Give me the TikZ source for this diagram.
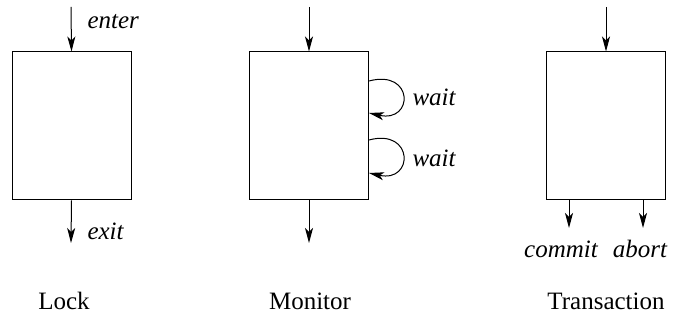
\documentclass[tikz,border=0pt]{standalone}
\usepackage{fontspec}
\setmainfont{Liberation Serif}
\usepackage{tikz}
\usetikzlibrary{arrows.meta,positioning,calc}

\begin{document}
\begin{tikzpicture}[x=0.5pt, y=-0.5pt, line width=0.5pt, >={Stealth[length=7.5pt,width=4pt,inset=2pt]}]
  \tikzset{unit/.style={draw, minimum width=59.5pt, minimum height=74pt, inner sep=0},
           lbl/.style={font=\fontsize{12.5}{14}\selectfont\itshape, inner sep=0},
           title/.style={font=\fontsize{12.5}{14}\selectfont, inner sep=0}}
  \useasboundingbox (0,0) rectangle (683,324);
  % lock
  \node[unit] (lock) at (71.5,126) {};
  \coordinate (lockin) at (71,7);
  \coordinate (lockout) at (71,243);
  \draw[->] (lockin) -- (lock.north);
  \draw[->] (lock.south) -- (lockout);
  \node[lbl, anchor=west] (enter) at (87,22) {enter};
  \node[lbl, anchor=west] (exit) at (87,231) {exit};
  \node[title] (locktitle) at (64,301) {Lock};
  % monitor
  \node[unit] (mon) at (309,126) {};
  \coordinate (monin) at (309,7);
  \coordinate (monout) at (309,243);
  \draw[->] (monin) -- (mon.north);
  \draw[->] (mon.south) -- (monout);
  \draw[->] ([yshift=22.5pt]mon.east) .. controls +(45,-12) and +(45,10) .. ([yshift=6.5pt]mon.east);
  \draw[->] ([yshift=-7pt]mon.east) .. controls +(45,-12) and +(45,10) .. ([yshift=-23.5pt]mon.east);
  \node[lbl, anchor=west] (wait1) at (412,97) {wait};
  \node[lbl, anchor=west] (wait2) at (412,158) {wait};
  \node[title] (montitle) at (310,301) {Monitor};
  % transaction
  \node[unit] (trans) at (606,126) {};
  \coordinate (transin) at (606,7);
  \coordinate (commitout) at (569,228);
  \coordinate (abortout) at (643,228);
  \draw[->] (transin) -- (trans.north);
  \draw[->] (trans.south -| commitout) -- (commitout);
  \draw[->] (trans.south -| abortout) -- (abortout);
  \node[lbl] (commit) at (561,249) {commit};
  \node[lbl] (abort) at (640,249) {abort};
  \node[title] (transtitle) at (606,301) {Transaction};
\end{tikzpicture}
\end{document}
